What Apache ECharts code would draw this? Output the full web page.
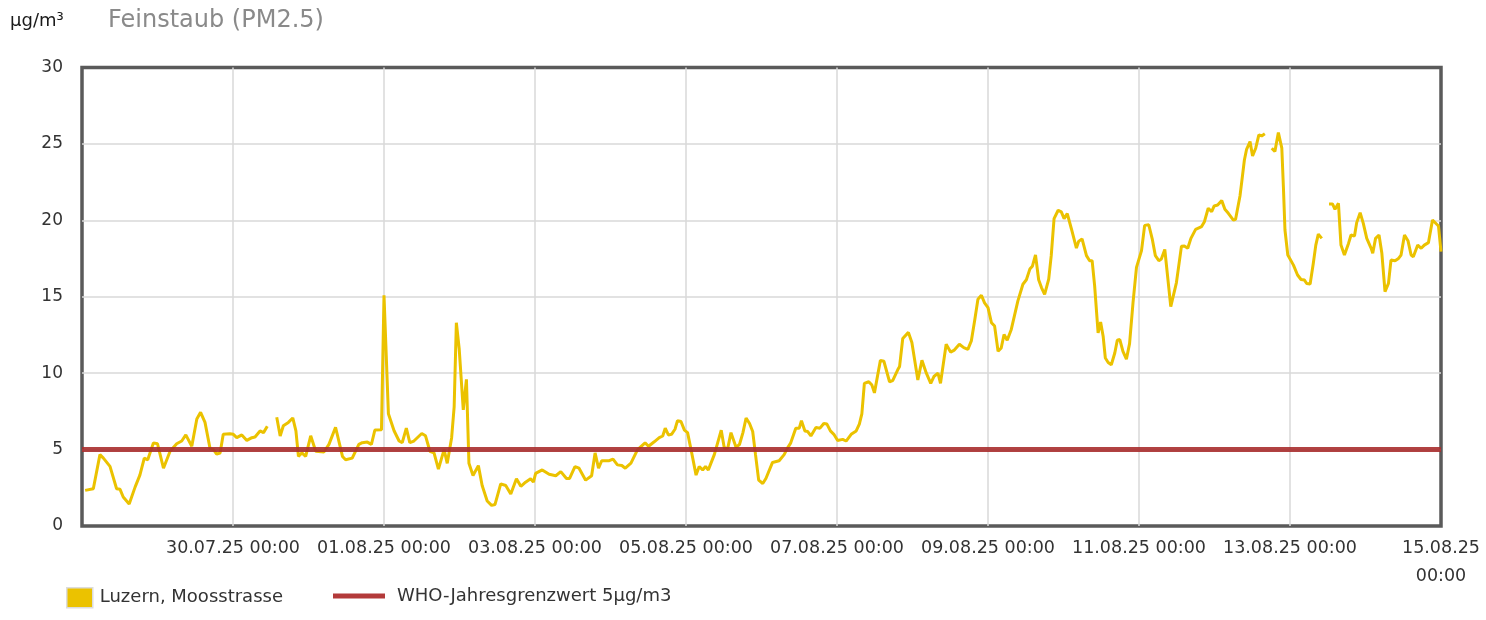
<!DOCTYPE html>
<html>
<head>
<meta charset="utf-8">
<script src="https://cdn.jsdelivr.net/npm/echarts@6/dist/echarts.min.js"></script>
<style>
html,body{margin:0;padding:0;background:#fff;}
#chart{width:1486px;height:620px;}
</style>
</head>
<body>
<div id="chart"></div>
<script>
// Hours since 28.07.2025 00:00
const START_UTC = Date.UTC(2025, 6, 28, 0, 0);
const X_MIN = 0;
const X_MAX = 432;
const X_STEP = 48;

const hours = [
1.0,3.6,5.7,6.8,8.9,11,12.1,13.1,15,16.9,18.4,19.8,20.9,22.7,24,25.9,28,30.1,31.7,33,34.9,36.5,37.7,39.1,40.7,41.8,42.8,43.9,44.9,47,48.1,49.2,50.8,52.4,54,55,56.6,57.7,58.9,60,
61.9,63,64,65.6,67,68,68.8,69.9,
71.1,72.7,74.3,76.9,78.5,80.6,82.8,83.8,85.9,88,89.1,90.7,92,93.1,95.2,96,97.4,99.2,100.8,101.8,103.1,104.2,105.5,108,109.2,110.6,111.9,113.3,115.1,116.1,117.5,118.3,119,119.9,121.2,122.2,123,124.3,126,127.2,128.8,130.2,131.3,133.1,134.7,136.3,138.1,139.5,141,142.6,143.5,
144.2,146.3,148.5,150.6,152.2,154,155,156.7,158,160.1,162,163.1,164.2,165.2,167.6,168.8,170.2,171.6,172.7,174.5,176.6,179,180.1,181.9,183.5,184.6,185.4,186.4,187.4,188.5,189.3,190.4,191.5,192.5,193.6,195.2,196.2,197.3,198.2,199.1,201,203.2,204.2,205.3,206.3,207.9,209,210.1,211.1,212.2,213.2,214.1,215.1,216.4,
217.4,219.5,221.6,223.2,224.3,225.3,226.9,228,228.7,229.8,230.7,231.7,233.3,234.6,235.8,236.8,237.9,239,240.2,241.8,242.9,244.5,246.1,247.1,247.9,248.7,250.1,251.1,251.9,253.8,254.9,256.7,257.7,259.3,259.9,260.9,262.7,263.8,265.7,267,268.4,269.8,270.8,272.1,272.9,274.7,276.1,277.3,278.9,280.3,281.6,282.7,
283.8,284.8,285.9,286.9,288,289.1,290.1,291.2,292.2,293.1,294.1,295.4,297.5,299.1,300.2,301.3,302.1,303.1,304.1,305,306,307.3,308.1,309,310.3,311.3,312.2,313.2,314.5,316.1,316.8,317.9,319.3,320.3,321.1,321.9,323,323.8,324.6,325.3,326.2,327.2,328.3,329.1,329.9,330.9,332,333,334.1,335.2,336.8,337.8,339.1,340.2,341.2,342.3,343.1,344.2,346.1,347.9,349.5,
350.4,351.5,352.5,354,355.9,356.8,358,359.1,359.9,361,362.3,363.3,364.4,366,366.7,368.1,368.6,369.5,370.2,371.3,372.1,373.1,374.1,375,376,377,
378.2,379.2,380.3,381.4,381.9,382.4,383.3,385.1,386.4,387.5,388.6,389.3,390.4,391.4,392.2,393,394.1,395,
396.4,397.5,398.3,399.4,400.2,401.3,402.6,403.4,404.5,405.2,406.3,407.3,408.4,409.8,410.3,411.2,412.3,413.2,414.2,415.3,416.1,417.4,418.5,419.3,420.4,421.5,422.5,423.2,424.6,425.7,426.7,428,429.3,431.2,432
];

const pm25 = [
2.33,2.44,4.67,4.44,3.9,2.44,2.4,1.9,1.44,2.56,3.33,4.44,4.33,5.44,5.38,3.78,4.89,5.38,5.56,5.96,5.22,7.0,7.44,6.78,5.07,5.0,4.71,4.78,6.0,6.04,6.0,5.78,5.96,5.6,5.78,5.82,6.22,6.11,6.53,null,
7.11,5.89,6.56,6.78,7.07,6.22,4.56,4.78,
4.55,5.9,4.89,4.84,5.34,6.46,4.55,4.33,4.44,5.34,5.45,5.49,5.34,6.28,6.3,15.1,7.35,6.23,5.56,5.45,6.41,5.45,5.56,6.05,5.9,4.89,4.78,3.72,5.0,4.1,5.78,7.8,13.3,11.6,7.6,9.6,4.1,3.3,3.95,2.65,1.64,1.35,1.41,2.76,2.65,2.09,3.09,2.6,2.87,3.09,2.87,
3.44,3.67,3.38,3.29,3.56,3.11,3.11,3.89,3.78,3.0,3.29,4.78,3.78,4.27,4.27,4.38,4.0,3.96,3.78,4.11,5.0,5.44,5.22,5.51,5.78,5.89,6.4,5.96,6.0,6.33,6.89,6.84,6.27,6.11,5.0,3.33,3.89,3.67,3.89,3.67,4.67,6.27,5.07,5.11,6.11,5.16,5.33,6.11,7.07,6.71,6.18,4.67,3.0,2.78,
3.11,4.16,4.27,4.67,5.11,5.44,6.4,6.4,6.89,6.22,6.18,5.89,6.44,6.4,6.71,6.67,6.22,6.0,5.6,5.67,5.56,6.0,6.22,6.67,7.33,9.33,9.44,9.22,8.71,10.84,10.78,9.44,9.51,10.22,10.44,12.27,12.67,12.0,9.56,10.84,10.0,9.33,9.78,10.0,9.33,11.89,11.38,11.51,11.89,11.67,11.56,12.11,
13.5,14.84,15.1,14.6,14.29,13.3,13.08,11.43,11.65,12.53,12.15,12.86,14.73,15.82,16.11,16.81,16.99,17.74,16.11,15.6,15.16,16.15,17.69,20.11,20.66,20.55,20.11,20.44,19.45,18.18,18.62,18.79,17.69,17.36,17.36,15.71,12.64,13.34,12.42,10.99,10.7,10.55,11.32,12.15,12.2,11.43,10.92,11.93,14.62,16.92,18.02,19.67,19.71,18.79,17.69,17.36,17.47,18.09,14.35,15.93,18.31,
18.32,18.17,18.82,19.41,19.59,19.91,20.79,20.57,20.94,21.0,21.29,20.72,20.46,20.02,20.07,21.59,22.42,23.95,24.65,25.15,24.21,24.72,25.59,25.52,25.66,null,
24.72,24.5,25.74,24.72,22.2,19.37,17.73,17.07,16.42,16.13,16.09,15.87,15.83,17.18,18.38,19.1,18.82,null,
21.07,21.07,20.72,21.11,18.38,17.73,18.49,19.04,18.97,19.85,20.5,19.8,18.82,18.17,17.84,18.82,19.04,17.84,15.33,15.87,17.4,17.36,17.51,17.73,19.04,18.67,17.73,17.62,18.38,18.17,18.38,18.54,20.02,19.63,17.95
];

const WHO_LIMIT = 5;
const Y_MIN = 0, Y_MAX = 30, Y_STEP = 5;

const SERIES_NAME = 'Luzern, Moosstrasse';
const LIMIT_NAME = 'WHO-Jahresgrenzwert 5µg/m3';
const TITLE = 'Feinstaub (PM2.5)';
const UNIT = 'µg/m³';

const FONT = '"DejaVu Sans", Verdana, sans-serif';

function pad(n){ return (n < 10 ? '0' : '') + n; }
function fmtTick(h){
  if (h <= X_MIN) return '';
  const d = new Date(START_UTC + h * 3600e3);
  const date = pad(d.getUTCDate()) + '.' + pad(d.getUTCMonth() + 1) + '.' + String(d.getUTCFullYear()).slice(2);
  const time = pad(d.getUTCHours()) + ':' + pad(d.getUTCMinutes());
  return h >= X_MAX ? date + '\n' + time : date + ' ' + time;
}

const pmData = hours.map((h, i) => [h, pm25[i] === null ? '-' : pm25[i]]);
const limitData = [[X_MIN, WHO_LIMIT], [X_MAX, WHO_LIMIT]];

const chart = echarts.init(document.getElementById('chart'), null, {renderer: 'canvas'});
chart.setOption({
  animation: false,
  backgroundColor: '#fff',
  textStyle: {fontFamily: FONT},
  title: [
    {text: UNIT, left: 10, top: 12, padding: 0, textStyle: {fontFamily: FONT, fontSize: 18, fontWeight: 'normal', color: '#1a1a1a'}},
    {text: TITLE, left: 108, top: 9, padding: 0, textStyle: {fontFamily: FONT, fontSize: 24, fontWeight: 'normal', color: '#8a8a8a'}}
  ],
  legend: [
    {
      left: 66, top: 587, padding: 0, itemWidth: 26, itemHeight: 20, icon: 'rect',
      data: [{name: SERIES_NAME, itemStyle: {color: '#EBC200', borderColor: '#dcdcdc', borderWidth: 1.5}}],
      textStyle: {fontFamily: FONT, fontSize: 18, color: '#333', padding: [14,0,0,2]},
      selectedMode: false
    },
    {
      left: 333, top: 587, padding: 0, itemWidth: 52, itemHeight: 5, icon: 'rect',
      data: [{name: LIMIT_NAME, itemStyle: {color: '#B33A3A'}}],
      textStyle: {fontFamily: FONT, fontSize: 18, color: '#333', padding: [14,0,0,7]},
      selectedMode: false
    }
  ],
  grid: {
    left: 82, right: 45, top: 67.5, bottom: 94,
    show: true, borderColor: '#5a5a5a', borderWidth: 3.5, backgroundColor: 'transparent'
  },
  xAxis: {
    type: 'value', min: X_MIN, max: X_MAX, interval: X_STEP,
    axisLine: {show: false}, axisTick: {show: false},
    splitLine: {show: true, showMinLine: false, showMaxLine: false, lineStyle: {color: '#d8d8d8', width: 1.5}},
    axisLabel: {
      formatter: fmtTick, margin: 8, fontFamily: FONT, fontSize: 17.5, color: '#333',
      lineHeight: 28, showMinLabel: true, showMaxLabel: true, hideOverlap: false,
      verticalAlign: 'top'
    }
  },
  yAxis: {
    type: 'value', min: Y_MIN, max: Y_MAX, interval: Y_STEP,
    axisLine: {show: false}, axisTick: {show: false},
    splitLine: {show: true, showMinLine: false, showMaxLine: false, lineStyle: {color: '#d8d8d8', width: 1.5}},
    axisLabel: {margin: 19, fontFamily: FONT, fontSize: 17, color: '#333'}
  },
  series: [
    {
      name: SERIES_NAME, type: 'line', data: pmData, connectNulls: false,
      showSymbol: false, symbol: 'none',
      lineStyle: {color: '#EBC200', width: 3}, itemStyle: {color: '#EBC200'},
      z: 2
    },
    {
      name: LIMIT_NAME, type: 'line', data: limitData,
      showSymbol: false, symbol: 'none',
      lineStyle: {color: '#A82E2E', width: 5, opacity: 0.9}, itemStyle: {color: '#B33A3A'},
      z: 3
    }
  ]
});
</script>
</body>
</html>
